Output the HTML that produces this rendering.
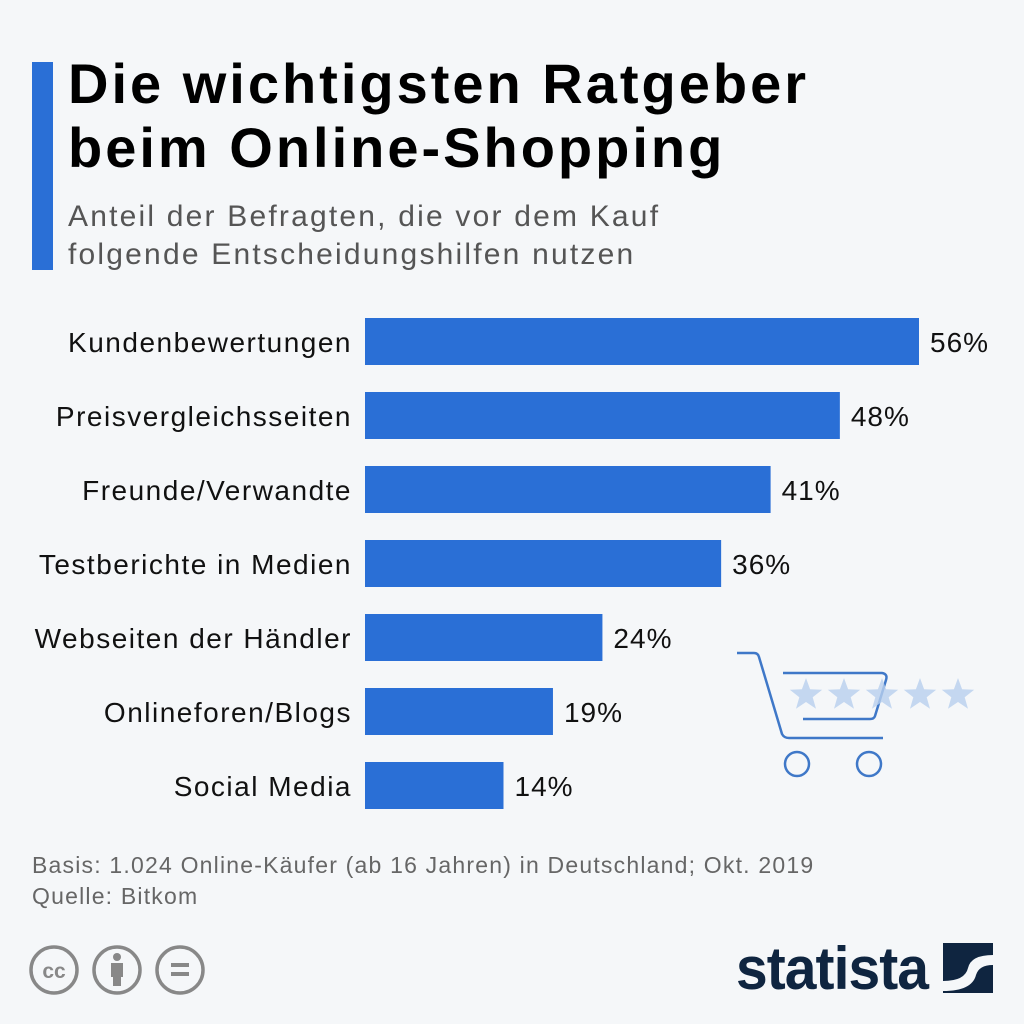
<!DOCTYPE html>
<html><head><meta charset="utf-8"><style>
body{margin:0;width:1024px;height:1024px;background:#f5f7f9;font-family:"Liberation Sans",sans-serif;overflow:hidden;position:relative}
.abs{position:absolute}
</style></head><body>
<div class="abs" style="left:32px;top:62px;width:21px;height:208px;background:#2a6fd6"></div>
<div class="abs" style="left:68px;top:52px;font-size:56px;font-weight:bold;line-height:64px;color:#000;letter-spacing:3px">Die wichtigsten Ratgeber<br>beim Online-Shopping</div>
<div class="abs" style="left:68px;top:198px;font-size:30px;line-height:38px;color:#555;letter-spacing:2.2px">Anteil der Befragten, die vor dem Kauf<br>folgende Entscheidungshilfen nutzen</div>
<svg class="abs" style="left:0;top:0" width="1024" height="1024" id="chart">
<g fill="none" stroke="#3f78c8" stroke-width="2.5">
<path d="M737 653 H754 Q758 653 759 657 L782 734 Q784 738 789 738 H883"/>
<path d="M783 673 H882 Q888 674 886 680 L875 716 Q874 719 870 719 H803"/>
<circle cx="797" cy="764" r="12"/><circle cx="869" cy="764" r="12"/>
</g>
<g id="stars" fill="#b9d0ee" opacity="0.8"></g>
</svg>
<div class="abs" style="left:32px;top:850px;font-size:23px;line-height:31px;color:#666;letter-spacing:1.2px">Basis: 1.024 Online-Käufer (ab 16 Jahren) in Deutschland; Okt. 2019<br>Quelle: Bitkom</div>
<svg class="abs" style="left:28px;top:943px" width="180" height="56">
<g fill="none" stroke="#888" stroke-width="3.5">
<circle cx="26" cy="27" r="23"/><circle cx="89" cy="27" r="23"/><circle cx="152" cy="27" r="23"/></g>
<text x="26" y="35" text-anchor="middle" font-size="21" font-weight="bold" fill="#888" font-family="Liberation Sans">cc</text>
<circle cx="89" cy="14" r="4" fill="#888"/><rect x="83" y="20" width="12" height="14" fill="#888"/><rect x="85" y="33" width="8" height="10" fill="#888"/>
<rect x="143" y="20" width="18" height="4" fill="#888"/><rect x="143" y="29" width="18" height="4" fill="#888"/>
</svg>
<div class="abs" style="left:736px;top:934px;font-size:60px;font-weight:bold;color:#0f2540;letter-spacing:-1px;transform:scaleX(0.95);transform-origin:left">statista</div>
<svg class="abs" style="left:943px;top:943px" width="50" height="50">
<rect width="50" height="50" fill="#0f2540"/><path d="M0 38 Q22 38 25 25 Q28 12 50 12 V22 Q36 22 33 32 Q29 48 0 48Z" fill="#f5f7f9"/>
</svg>
<script>
const categories=["Kundenbewertungen","Preisvergleichsseiten","Freunde/Verwandte","Testberichte in Medien","Webseiten der Händler","Onlineforen/Blogs","Social Media"];
const values=[56,48,41,36,24,19,14];
const valueLabels=["56%","48%","41%","36%","24%","19%","14%"];
const svg=document.getElementById('chart');
const NS='http://www.w3.org/2000/svg';
const x0=365, pxPer=554/56;
const xScale=v=>v*pxPer;
const yScale=i=>318+i*74;
categories.forEach((c,i)=>{
 const y=yScale(i);
 const r=document.createElementNS(NS,'rect');
 r.setAttribute('x',x0);r.setAttribute('y',y);r.setAttribute('width',xScale(values[i]));r.setAttribute('height',47);r.setAttribute('fill','#2a6fd6');
 
 
 svg.appendChild(r);
 const t=document.createElementNS(NS,'text');
 t.setAttribute('x',352);t.setAttribute('y',y+34);t.setAttribute('text-anchor','end');t.setAttribute('font-size','28');t.setAttribute('letter-spacing','1.5');t.setAttribute('fill','#111');t.setAttribute('font-family','Liberation Sans');
 t.textContent=c;
 
 
 svg.appendChild(t);
 const v=document.createElementNS(NS,'text');
 v.setAttribute('x',x0+xScale(values[i])+11);v.setAttribute('y',y+34);v.setAttribute('font-size','28');v.setAttribute('letter-spacing','1');v.setAttribute('fill','#111');v.setAttribute('font-family','Liberation Sans');
 v.textContent=valueLabels[i];
 
 
 svg.appendChild(v);
});
const stars=document.getElementById('stars');
for(let k=0;k<5;k++){
 const cx=806+k*38, cy=695, R=17, r2=7;
 let d='';
 for(let j=0;j<10;j++){const a=-Math.PI/2+j*Math.PI/5, rr=j%2?r2:R; d+=(j?'L':'M')+(cx+rr*Math.cos(a)).toFixed(1)+' '+(cy+rr*Math.sin(a)).toFixed(1);}
 const p=document.createElementNS(NS,'path');p.setAttribute('d',d+'Z');
 
 
 stars.appendChild(p);
}
</script>
</body></html>
